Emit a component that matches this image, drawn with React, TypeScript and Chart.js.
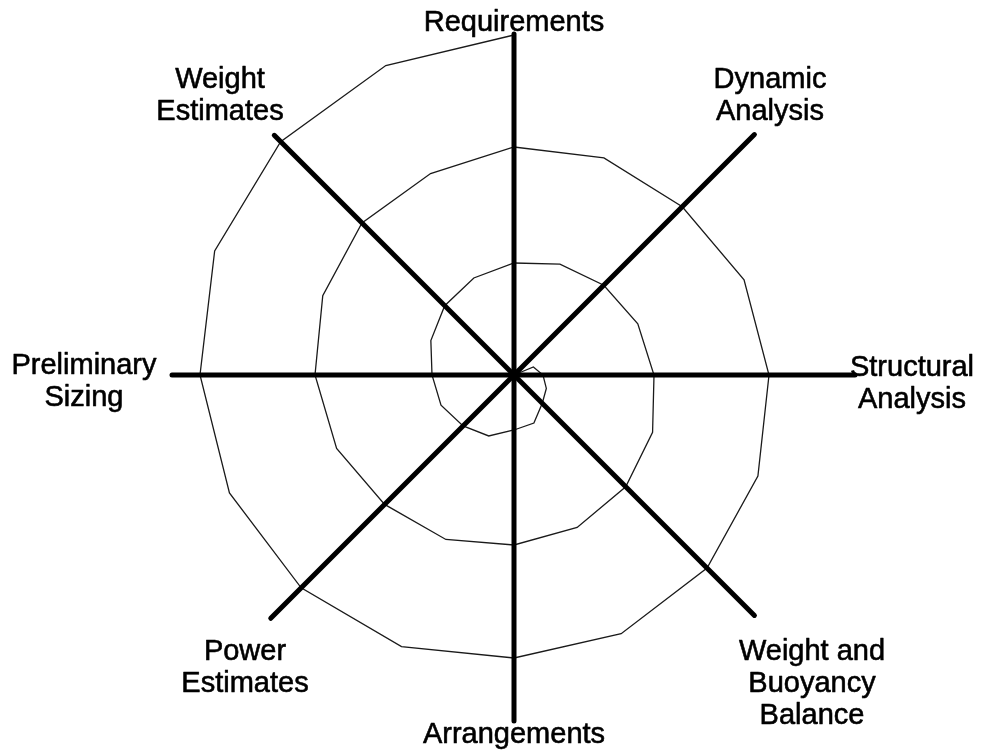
import React, { useEffect, useRef } from "react";
import { Chart, registerables } from "chart.js";

Chart.register(...registerables);

// Spiral vertices: compass angle (deg, counter-clockwise from east) and radius (px from hub)
const spiralAngles = [
  45, 22.5, 0, -22.5, -45, -67.5, -90, -112.5, -135, -157.5, 180, 157.5, 135, 112.5, 90, 67.5,
  45, 22.5, 0, -22.5, -45, -67.5, -90, -112.5, -135, -157.5, 180, 157.5, 135, 112.5, 90, 67.5,
  45, 22.5, 0, -22.5, -45, -67.5, -90, -112.5, -135, -157.5, 180, 157.5, 135, 112.5, 90,
];
const spiralRadii = [
  0, 21, 29, 35, 40, 52, 55, 66, 72, 79, 82, 90, 98, 105, 112, 120,
  127, 134, 140, 150, 158, 165, 170, 178, 183, 192, 199, 207, 215, 218, 228, 235,
  238, 249, 255, 264, 273, 280, 283, 294, 301, 308, 314, 324, 330, 335, 340,
];

// Spokes (one per design step)
const spokeAngles = [90, 45, 0, -45, -90, -135, 180, 135];
const spokeLengths = [341, 340, 341, 340, 346, 344, 342, 339];

// Labels of the steps
const stepLabels: string[][] = [
  ["Requirements"],
  ["Dynamic", "Analysis"],
  ["Structural", "Analysis"],
  ["Weight and", "Buoyancy", "Balance"],
  ["Arrangements"],
  ["Power", "Estimates"],
  ["Preliminary", "Sizing"],
  ["Weight", "Estimates"],
];

// layout anchors for the labels (in axis units, centre of text block)
const labelAnchors = [
  [0, 352],
  [256, 279],
  [398, -9],
  [298, -309],
  [0, -360],
  [-269, -293],
  [-430, -7],
  [-294, 279],
];

const toXY = (r: number, a: number) => ({
  x: r * Math.cos((a * Math.PI) / 180),
  y: r * Math.sin((a * Math.PI) / 180),
});

export default function App() {
  const ref = useRef<HTMLCanvasElement>(null);

  useEffect(() => {
    if (!ref.current) return;
    const spiral = spiralRadii.map((r, i) => toXY(r, spiralAngles[i]));
    const spokeSets = spokeAngles.map((a, i) => ({
      label: "spoke" + i,
      data: [{ x: 0, y: 0 }, toXY(spokeLengths[i], a)],
      showLine: true,
      borderColor: "#000",
      borderWidth: 5,
      borderCapStyle: "round" as const,
      pointRadius: 0,
      pointHoverRadius: 0,
      tension: 0,
    }));

    const labelPlugin = {
      id: "stepLabels",
      afterDatasetsDraw(chart: any) {
        const { ctx, scales } = chart;
        ctx.save();
        ctx.fillStyle = "#000";
        ctx.strokeStyle = "#000";
        ctx.lineWidth = 0.6;
        ctx.lineJoin = "round";
        ctx.font = '29px "Liberation Sans", Arial, sans-serif';
        ctx.textAlign = "center";
        ctx.textBaseline = "middle";
        const lh = 32;
        stepLabels.forEach((lines, i) => {
          const cx = scales.x.getPixelForValue(labelAnchors[i][0]);
          const cy = scales.y.getPixelForValue(labelAnchors[i][1]);
          const top = cy - ((lines.length - 1) * lh) / 2;
          lines.forEach((t, j) => {
            ctx.fillText(t, cx, top + j * lh);
            ctx.strokeText(t, cx, top + j * lh);
          });
        });
        ctx.restore();
      },
    };

    const chart = new Chart(ref.current, {
      type: "scatter",
      data: {
        datasets: [
          ...spokeSets,
          {
            label: "spiral",
            data: spiral,
            showLine: true,
            borderColor: "#1a1a1a",
            borderWidth: 1.3,
            pointRadius: 0,
            pointHoverRadius: 0,
            tension: 0,
          },
        ],
      },
      options: {
        animation: false,
        responsive: false,
        devicePixelRatio: 1,
        layout: { padding: { left: 164, right: 118, top: 25, bottom: 26 } },
        plugins: {
          legend: { display: false },
          tooltip: { enabled: false },
          title: { display: false },
        },
        events: [],
        scales: {
          x: { type: "linear", min: -350, max: 350, display: false },
          y: { type: "linear", min: -350, max: 350, display: false },
        },
      },
      plugins: [labelPlugin],
    });
    return () => chart.destroy();
  }, []);

  return (
    <div style={{ position: "fixed", left: 0, top: 0, width: 982, height: 751, background: "#fff" }}>
      <canvas ref={ref} width={982} height={751} style={{ display: "block" }} />
    </div>
  );
}
